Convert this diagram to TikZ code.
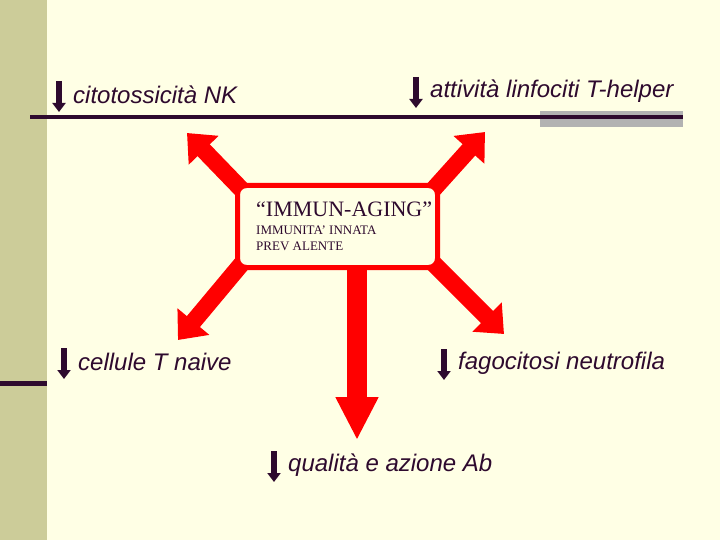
\documentclass[tikz,border=0pt]{standalone}
\usepackage{fontspec}
\newfontfamily\arialf{Liberation Sans}
\newfontfamily\timesf{Liberation Serif}
\usepackage{xcolor}
\definecolor{sfondo}{HTML}{FFFFE5}
\definecolor{banda}{HTML}{CCCC99}
\definecolor{scuro}{HTML}{2E0A2E}
\definecolor{grigio}{HTML}{B2B2B2}
\definecolor{rosso}{HTML}{FF0000}
\usepackage{tikz}
\usetikzlibrary{arrows.meta, positioning}

\begin{document}
\begin{tikzpicture}[x=1pt, y=-1pt,
  lbl/.style={inner sep=0pt, anchor=west, text=scuro,
    font=\arialf\itshape\fontsize{24}{28}\selectfont},
  giu/.style={scuro, line width=6.5pt, -{Triangle[length=9pt, width=13pt]}},
  freccia/.style={rosso, line width=17pt, -{Triangle[length=24pt, width=40pt]}},
  cartello/.style={rectangle, rounded corners=9pt, draw=rosso, line width=5pt,
    fill=sfondo, minimum width=200pt, minimum height=82pt, inner sep=0pt},
  serif/.style={inner sep=0pt, anchor=base west, text=scuro}]
% Background and left band
\useasboundingbox (0,0) rectangle (720,540);
\fill[sfondo] (0,0) rectangle (720,540);
\fill[banda] (0,0) rectangle (47,540);
\fill[scuro] (0,381) rectangle (47,386);

% Top rule with grey bar
\fill[grigio] (540,111) rectangle (683,127);
\draw[scuro, line width=3.5pt] (30,117) -- (683,117);

% Red arrows out of the sign
\coordinate (pnw) at (244,192);
\coordinate (pne) at (431,192);
\coordinate (psw) at (244,261);
\coordinate (pse) at (431,261);
\coordinate (ps) at (357,268);
\coordinate (tnw) at (187,133);
\coordinate (tne) at (485,132);
\coordinate (tsw) at (178,340);
\coordinate (tse) at (504,334);
\coordinate (ts) at (357,440);
\foreach \a/\b in {pnw/tnw, pne/tne, psw/tsw, pse/tse}
  \draw[freccia] (\a) -- (\b);
\draw[freccia, line width=20pt, -{Triangle[length=43pt, width=40pt]}] (ps) -- (ts);

% Sign
\node[cartello] (box) at (337.5,226.5) {};
\node[serif, font=\timesf\fontsize{22}{25}\selectfont] (t1) at (256,217) {“IMMUN-AGING”};
\node[serif, font=\timesf\fontsize{13}{15}\selectfont] (t2) at (256,234) {IMMUNITA’ INNATA};
\node[serif, font=\timesf\fontsize{13}{15}\selectfont] (t3) at (256,251) {PREV ALENTE};

% Labels with down arrows
\foreach \nm/\x/\y/\txt in {nk/73/95/{citotossicità NK},
    th/430/91/{attività linfociti T-helper},
    tn/78/362/{cellule T naive},
    fn/458/363/{fagocitosi neutrofila},
    ab/288/465/{qualità e azione Ab}} {
  \node[lbl] (\nm) at (\x,\y) {\txt};
  \draw[giu] ([shift={(-14,-14)}]\nm.west) -- ([shift={(-14,17)}]\nm.west);
}
\end{tikzpicture}
\end{document}
